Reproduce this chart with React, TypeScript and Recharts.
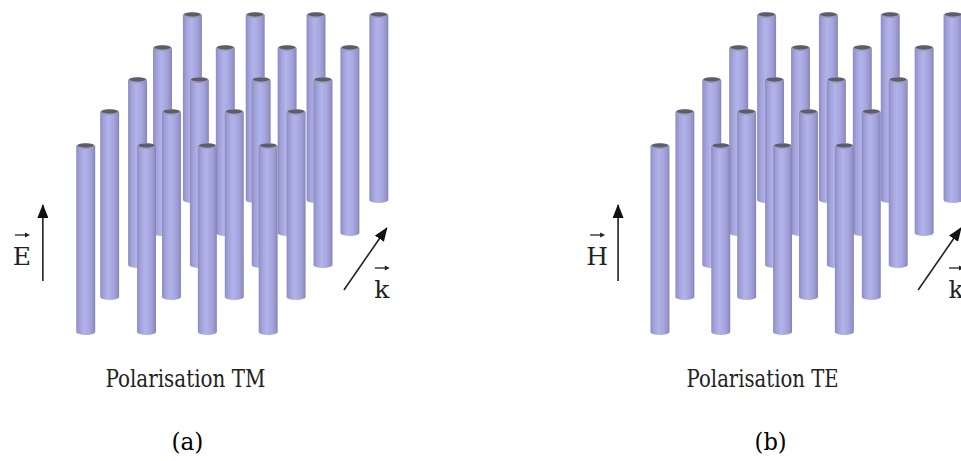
import { ComposedChart, XAxis, YAxis, ReferenceArea, Line, Scatter } from "recharts";

const W = 961;
const H = 461;

// rod rows from back to front: top and bottom of each row, then x centre of every rod
const rowTops = [15, 48, 80, 112, 146];
const rowBottoms = [200, 233, 265, 297, 332];
const rodsTM = [
  [193, 256, 317, 380],
  [163, 226, 288, 351],
  [138, 200, 262, 324],
  [110, 172, 235, 297],
  [86, 147, 208, 269],
];
const rodsTE = [
  [769, 831, 893, 956],
  [741, 803, 865, 927],
  [714, 777, 839, 901],
  [687, 749, 811, 874],
  [662, 723, 785, 847],
];

// field arrows (tail, head)
const arrowE = [{ x: 43, y: 281 }, { x: 43, y: 205 }];
const arrowKa = [{ x: 345, y: 290 }, { x: 388, y: 228 }];
const arrowH = [{ x: 620, y: 281 }, { x: 620, y: 205 }];
const arrowKb = [{ x: 921, y: 290 }, { x: 964, y: 228 }];

const vectorLabels = [
  { x: 22, y: 265, label: "E" },
  { x: 383, y: 298, label: "k" },
  { x: 599, y: 265, label: "H" },
  { x: 959, y: 298, label: "k" },
];
const captions = [
  { x: 186, y: 387, label: "Polarisation TM" },
  { x: 765, y: 387, label: "Polarisation TE" },
];
const panelLetters = [
  { x: 188, y: 450, label: "(a)" },
  { x: 773, y: 450, label: "(b)" },
];

const ROD_R = 9.5;
const INK = "#222";
const SERIF = "DejaVu Serif";

const rods = [...rodsTM, ...rodsTE].flatMap((row, i) => {
  const r = i % rowTops.length;
  return row.map((x) => ({ x, top: rowTops[r], bottom: rowBottoms[r] }));
});
// draw back rows first, left panel and right panel together
rods.sort((a, b) => a.top - b.top);

function Rod(props: any) {
  const { x, y, width, height } = props;
  const rx = width / 2;
  const ry = 3;
  const d = `M${x},${y} L${x},${y + height} A${rx},${ry} 0 0 0 ${x + width},${y + height} L${x + width},${y} Z`;
  return (
    <g>
      <path d={d} fill="url(#rodShade)" />
      <ellipse cx={x + rx} cy={y} rx={rx} ry={ry} fill="#9a9ab6" />
      <ellipse cx={x + rx} cy={y - 0.6} rx={rx - 1.2} ry={ry - 1} fill="#5c5c6c" />
    </g>
  );
}

function VectorLabel(props: any) {
  const { cx, cy, payload } = props;
  return (
    <g>
      <text x={cx} y={cy} textAnchor="middle" fontSize={25} fill={INK} fontFamily={SERIF}>
        {payload.label}
      </text>
      <line x1={cx - 7} y1={cy - 30} x2={cx + 6} y2={cy - 30} stroke={INK} strokeWidth={1.3} />
      <path d={`M${cx + 8},${cy - 30} L${cx + 3},${cy - 32.5} L${cx + 3},${cy - 27.5} Z`} fill={INK} />
    </g>
  );
}

// the original lettering is a narrow Times face, so the text is squeezed to its width
function Caption(props: any) {
  const { cx, cy, payload } = props;
  const len = payload.label.endsWith("TM") ? 160 : 152;
  return (
    <text
      x={cx}
      y={cy}
      textAnchor="middle"
      fontSize={24}
      fill={INK}
      fontFamily={SERIF}
      textLength={len}
      lengthAdjust="spacingAndGlyphs"
    >
      {payload.label}
    </text>
  );
}

function Letter(props: any) {
  const { cx, cy, payload } = props;
  return (
    <text
      x={cx}
      y={cy}
      textAnchor="middle"
      fontSize={25}
      fill="#000"
      fontFamily={SERIF}
      textLength={32}
      lengthAdjust="spacingAndGlyphs"
    >
      {payload.label}
    </text>
  );
}

const arrowProps = {
  type: "linear" as const,
  dataKey: "y",
  stroke: INK,
  strokeWidth: 1.6,
  dot: false,
  activeDot: false,
  isAnimationActive: false,
  markerEnd: "url(#arrowHead)",
};

export default function App() {
  return (
    <div style={{ position: "absolute", left: 0, top: 0, background: "#fff" }}>
      <ComposedChart width={W} height={H} margin={{ top: 0, right: 0, bottom: 0, left: 0 }}>
        <defs>
          <linearGradient id="rodShade" x1="0" y1="0" x2="1" y2="0">
            <stop offset="0%" stopColor="#8c8cc2" />
            <stop offset="18%" stopColor="#a2a2da" />
            <stop offset="42%" stopColor="#b3b3ec" />
            <stop offset="70%" stopColor="#a6a6de" />
            <stop offset="90%" stopColor="#9494ca" />
            <stop offset="100%" stopColor="#8080b2" />
          </linearGradient>
          <marker
            id="arrowHead"
            viewBox="0 0 14 11"
            refX="13"
            refY="5.5"
            markerWidth="14"
            markerHeight="11"
            markerUnits="userSpaceOnUse"
            orient="auto"
          >
            <path d="M0,0 L14,5.5 L0,11 Z" fill="#111" />
          </marker>
        </defs>
        <XAxis type="number" dataKey="x" domain={[0, W]} hide />
        <YAxis type="number" dataKey="y" domain={[0, H]} reversed hide />
        {rods.map((r, i) => (
          <ReferenceArea
            key={i}
            x1={r.x - ROD_R}
            x2={r.x + ROD_R}
            y1={r.top}
            y2={r.bottom}
            ifOverflow="visible"
            shape={<Rod />}
          />
        ))}
        <Line data={arrowE} {...arrowProps} />
        <Line data={arrowKa} {...arrowProps} />
        <Line data={arrowH} {...arrowProps} />
        <Line data={arrowKb} {...arrowProps} />
        <Scatter data={vectorLabels} dataKey="y" shape={<VectorLabel />} isAnimationActive={false} />
        <Scatter data={captions} dataKey="y" shape={<Caption />} isAnimationActive={false} />
        <Scatter data={panelLetters} dataKey="y" shape={<Letter />} isAnimationActive={false} />
      </ComposedChart>
    </div>
  );
}
